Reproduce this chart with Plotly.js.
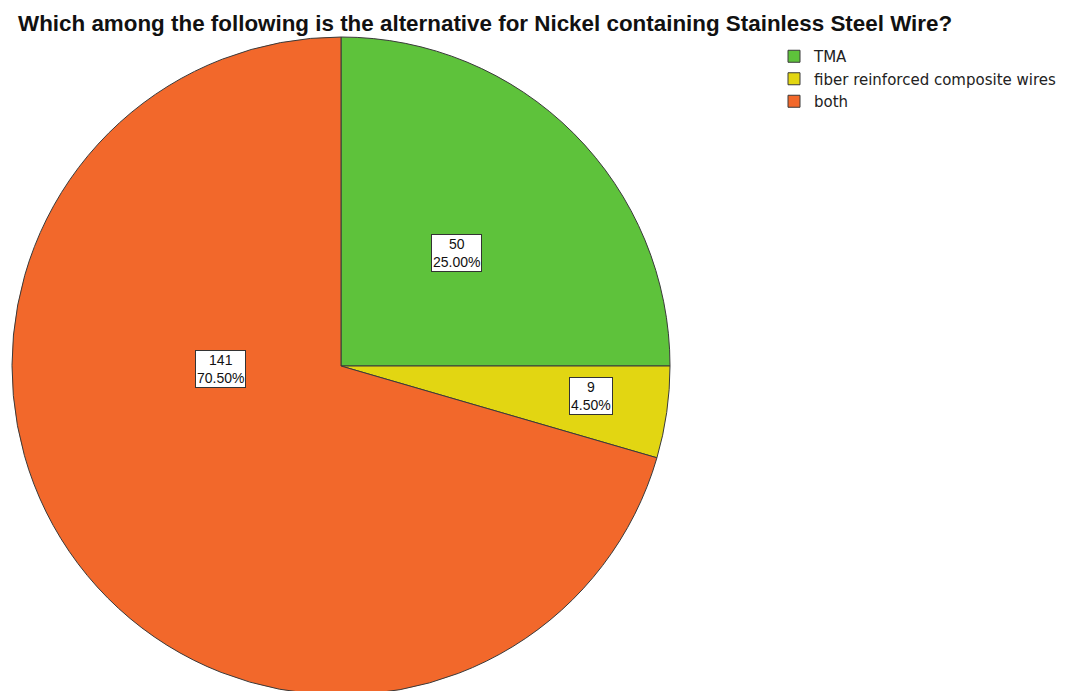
<!DOCTYPE html>
<html>
<head>
<meta charset="utf-8">
<script src="https://cdn.plot.ly/plotly-3.0.1.min.js"></script>
<style>
html,body{margin:0;padding:0;overflow:hidden;background:#fff;}
#chart{width:1078px;height:700px;}
</style>
</head>
<body>
<div id="chart"></div>
<script>
const categories = ["TMA", "fiber reinforced composite wires", "both"];
const counts = [50, 9, 141];
const percents = ["25.00%", "4.50%", "70.50%"];
const colors = ["#5ec23b", "#e2d612", "#f2682b"];

// label box positions (paper coords) for each slice
const labelPos = [[0.4239, 0.6386], [0.5482, 0.4343], [0.2041, 0.4729]];

const W = 1078, H = 700;
const trace = {
  type: "pie",
  labels: categories,
  values: counts,
  sort: false,
  direction: "clockwise",
  rotation: 0,
  textinfo: "none",
  hoverinfo: "label+value+percent",
  marker: {colors: colors, line: {color: "#3a3a3a", width: 1}},
  domain: {x: [12 / W, 670 / W], y: [5 / H, 663 / H]}
};

const annotations = categories.map((c, i) => ({
  xref: "paper", yref: "paper",
  x: labelPos[i][0], y: labelPos[i][1],
  xanchor: "center", yanchor: "middle",
  text: counts[i] + "<br>" + percents[i],
  showarrow: false,
  align: "center",
  font: {family: "Liberation Sans, Arial, sans-serif", size: 14, color: "#111"},
  bgcolor: "#ffffff",
  bordercolor: "#333333",
  borderwidth: 1,
  borderpad: 1
}));

const layout = {
  width: W, height: H,
  margin: {l: 0, r: 0, t: 0, b: 0},
  paper_bgcolor: "#ffffff",
  title: {
    text: "<b>Which among the following is the alternative for Nickel containing Stainless Steel Wire?</b>",
    font: {family: "Liberation Sans, Arial, sans-serif", size: 22.4, color: "#111"},
    x: 18 / W, xanchor: "left", xref: "container",
    y: 1 - 23 / H, yanchor: "middle", yref: "container"
  },
  showlegend: true,
  legend: {
    x: 774 / W, xanchor: "left",
    y: 1 - 40 / H, yanchor: "top",
    font: {family: "DejaVu Sans, sans-serif", size: 15, color: "#222"},
    bgcolor: "rgba(0,0,0,0)",
    tracegroupgap: 0,
    itemwidth: 30
  },
  annotations: annotations
};

Plotly.newPlot("chart", [trace], layout, {displayModeBar: false, staticPlot: true});
</script>
</body>
</html>
